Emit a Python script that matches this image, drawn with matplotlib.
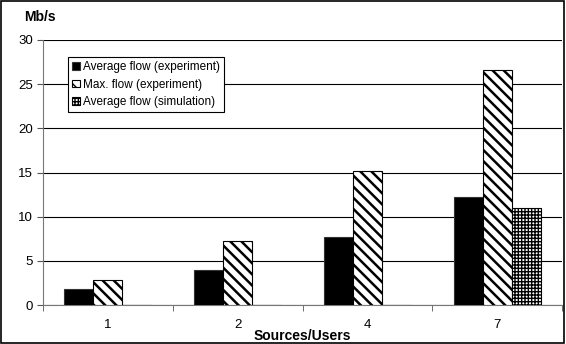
import matplotlib.pyplot as plt
import matplotlib.patches as mpatches
import numpy as np

plt.rcParams['font.family'] = ['Liberation Sans', 'DejaVu Sans']

categories = ['1', '2', '4', '7']
avg_exp = [1.8, 4.0, 7.7, 12.2]
max_exp = [2.8, 7.3, 15.2, 26.6]
avg_sim = [0, 0, 0, 11.0]

fig = plt.figure(figsize=(5.66, 3.44), dpi=100)
ax = fig.add_axes([43 / 566, 39 / 344, 519 / 566, 265 / 344])

x = np.arange(len(categories))
w = 0.223
ax.bar(x - w, avg_exp, w, color='black', edgecolor='#333333', linewidth=0.8, zorder=3,
       label='Average flow (experiment)')
plt.rcParams['hatch.linewidth'] = 1.8
ax.bar(x, max_exp, w, color='white', edgecolor='black', hatch='\\\\\\', linewidth=0.8, zorder=3,
       label='Max. flow (experiment)')
plt.rcParams['hatch.linewidth'] = 1.0
ax.bar(x + w, avg_sim, w, color='white', edgecolor='black', hatch='+++++', linewidth=0.8, zorder=3,
       label='Average flow (simulation)')

ax.set_xlim(-0.5, len(categories) - 0.5)
ax.set_ylim(0, 30)
ax.set_yticks(range(0, 31, 5))
ax.yaxis.grid(True, color='black', linewidth=0.8, zorder=0)
ax.set_xticks(x)
ax.set_xticklabels(categories)
ax.set_xticks(np.arange(-0.5, len(categories), 1), minor=True)
ax.tick_params(axis='x', which='major', length=0, pad=10, labelsize=9.5)
ax.tick_params(axis='x', which='minor', length=4, color='#555555')
ax.tick_params(axis='y', length=4, color='#555555', labelsize=9.5, pad=3)

for s in ['top', 'right']:
    ax.spines[s].set_visible(False)
ax.spines['left'].set_color('#777777')
ax.spines['bottom'].set_color('#777777')

ax.set_xlabel('Sources/Users', fontweight='bold', fontsize=10, va='center')
ax.xaxis.set_label_coords(0.5, -31 / 265)
fig.text(24 / 566, 1 - 17 / 344, 'Mb/s', fontweight='bold', fontsize=10, va='center')

leg = ax.legend(loc='upper left', bbox_to_anchor=(0.048, 0.935), borderaxespad=0,
                fontsize=8.5, frameon=True, fancybox=False, edgecolor='black', framealpha=1,
                handlelength=0.65, handleheight=0.65, handletextpad=0.3, borderpad=0.35,
                labelspacing=0.45)
leg.get_frame().set_linewidth(0.8)

fig.patches.append(mpatches.Rectangle((0.002, 0.003), 0.995, 0.994, transform=fig.transFigure,
                                      fill=False, edgecolor='black', linewidth=1.2))

fig.savefig('out.png', dpi=100)
